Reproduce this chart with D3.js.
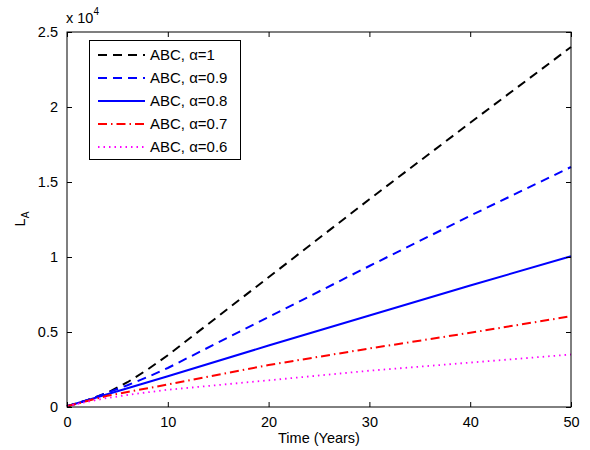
<!DOCTYPE html>
<html><head><meta charset="utf-8">
<script src="https://cdn.jsdelivr.net/npm/d3@7"></script>
<style>
body{margin:0;background:#fff;}
text{font-family:"Liberation Sans",Arial,Helvetica,sans-serif;fill:#000;}
</style></head>
<body><svg id="c" width="590" height="450"></svg>
<script>
const times = [0, 2, 4, 6, 8, 10, 20, 30, 40, 50];
const alpha1 = [50, 450, 950, 1650, 2500, 3450, 8650, 13850, 18950, 24000];
const alpha09 = [50, 450, 950, 1450, 2000, 2600, 6000, 9400, 12750, 16000];
const alpha08 = [50, 450, 850, 1250, 1650, 2050, 4100, 6100, 8100, 10050];
const alpha07 = [50, 400, 750, 1000, 1250, 1500, 2800, 3900, 4950, 6050];
const alpha06 = [50, 350, 600, 800, 980, 1150, 1780, 2420, 2960, 3500];
const seriesNames = ["ABC, \u03b1=1", "ABC, \u03b1=0.9", "ABC, \u03b1=0.8", "ABC, \u03b1=0.7", "ABC, \u03b1=0.6"];
const xTicks = [0, 10, 20, 30, 40, 50];
const yTicks = [0, 5000, 10000, 15000, 20000, 25000];
const yTickLabels = ["0", "0.5", "1", "1.5", "2", "2.5"];

const styles = [
  {color:"#000000", dash:"9,6", w:2},
  {color:"#0000ff", dash:"9,6", w:2},
  {color:"#0000ff", dash:null, w:2},
  {color:"#ff0000", dash:"9,4,1.5,4", w:2},
  {color:"#ff00ff", dash:"1.5,4", w:1.8}
];
const seriesData = [alpha1, alpha09, alpha08, alpha07, alpha06];

const svg = d3.select("#c");
const L = 67, R = 571, T = 32, B = 407;
const x = d3.scaleLinear().domain([0, 50]).range([L, R]);
const y = d3.scaleLinear().domain([0, 25000]).range([B, T]);

const g = svg.append("g");
const line = d3.line().x((d,i)=>x(times[i])).y(d=>y(d));
seriesData.forEach((s, k) => {
  g.append("path").datum(s).attr("d", line).attr("fill","none")
    .attr("stroke", styles[k].color).attr("stroke-width", styles[k].w)
    .attr("stroke-dasharray", styles[k].dash);
});

svg.append("rect").attr("x",L).attr("y",T).attr("width",R-L).attr("height",B-T)
  .attr("fill","none").attr("stroke","#000").attr("stroke-width",1);

const fs = "14.5px";
const xAxis = d3.axisBottom(x).tickValues(xTicks).tickSizeInner(-5).tickSizeOuter(0).tickPadding(10);
const gx = svg.append("g").attr("transform",`translate(0,${B})`).call(xAxis);
gx.select(".domain").remove();
gx.selectAll("text").style("font-size",fs);
const xTop = d3.axisTop(x).tickValues(xTicks).tickSizeInner(-5).tickSizeOuter(0).tickFormat("");
const gxt = svg.append("g").attr("transform",`translate(0,${T})`).call(xTop);
gxt.select(".domain").remove();

const yAxis = d3.axisLeft(y).tickValues(yTicks).tickSizeInner(-5).tickSizeOuter(0).tickPadding(9)
  .tickFormat((d,i)=>yTickLabels[i]);
const gy = svg.append("g").attr("transform",`translate(${L},0)`).call(yAxis);
gy.select(".domain").remove();
gy.selectAll("text").style("font-size",fs);
const yRight = d3.axisRight(y).tickValues(yTicks).tickSizeInner(-5).tickSizeOuter(0).tickFormat("");
const gyr = svg.append("g").attr("transform",`translate(${R},0)`).call(yRight);
gyr.select(".domain").remove();
svg.selectAll(".tick line").attr("stroke","#000");

const ex = svg.append("text").attr("x",66).attr("y",23).style("font-size","14.5px");
ex.append("tspan").text("x 10");
ex.append("tspan").attr("dy",-8).style("font-size","10px").text("4");

svg.append("text").attr("x",(L+R)/2).attr("y",443).attr("text-anchor","middle")
  .style("font-size","14.5px").text("Time (Years)");
const yl = svg.append("text").attr("transform","translate(25,219) rotate(-90)")
  .attr("text-anchor","middle").style("font-size","14.5px");
yl.append("tspan").text("L");
yl.append("tspan").attr("dy",4).style("font-size","10px").text("A");

const lg = svg.append("g");
lg.append("rect").attr("x",89.5).attr("y",40.5).attr("width",151).attr("height",119)
  .attr("fill","#fff").attr("stroke","#000").attr("stroke-width",1);
seriesNames.forEach((n,k)=>{
  const yy = 55 + k*23;
  lg.append("line").attr("x1",98).attr("x2",145).attr("y1",yy).attr("y2",yy)
    .attr("stroke",styles[k].color).attr("stroke-width",styles[k].w)
    .attr("stroke-dasharray",styles[k].dash);
  lg.append("text").attr("x",150).attr("y",yy+5).style("font-size","15px").text(n);
});
</script></body></html>
